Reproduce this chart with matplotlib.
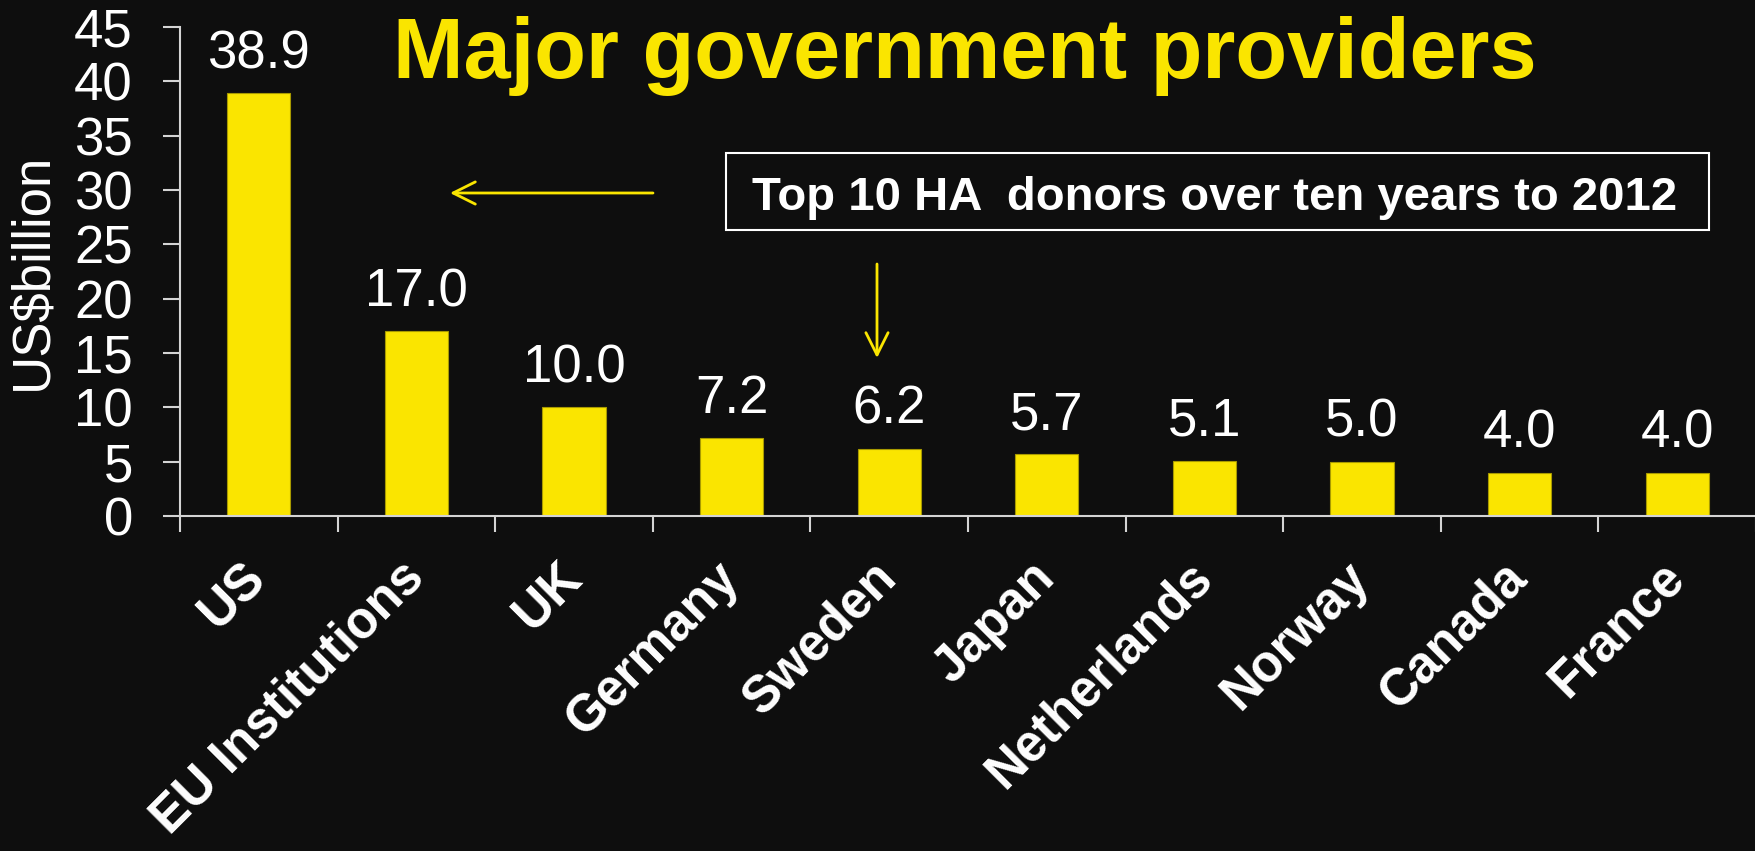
import matplotlib
matplotlib.use("Agg")
import matplotlib.pyplot as plt
from matplotlib.patches import Rectangle
import numpy as np

plt.rcParams['font.family'] = ['Liberation Sans', 'DejaVu Sans']

# data
donors = ['US', 'EU Institutions', 'UK', 'Germany', 'Sweden',
          'Japan', 'Netherlands', 'Norway', 'Canada', 'France']
values = [38.9, 17.0, 10.0, 7.2, 6.2, 5.7, 5.1, 5.0, 4.0, 4.0]
yticks = [0, 5, 10, 15, 20, 25, 30, 35, 40, 45]

bg = '#0e0e0e'
yellow = '#fae500'
axis_col = '#d4d4d4'
W, H = 1756, 851

fig = plt.figure(figsize=(W / 100, H / 100), dpi=100, facecolor=bg)
ax = fig.add_axes([180 / W, (H - 516) / H, (W - 180) / W, (516 - 27) / H])
ax.set_facecolor(bg)

x = np.arange(len(donors))
bars = ax.bar(x, values, width=0.4, color=yellow, edgecolor='#a89a00', linewidth=0.8)

for xi, v in zip(x, values):
    ax.annotate('%.1f' % v, xy=(xi, v), xytext=(0, 18), textcoords='offset points',
                ha='center', va='baseline', fontsize=38, color='white')

ax.set_xlim(-0.5, len(donors) - 0.5)
ax.set_ylim(0, 45)
ax.set_yticks(yticks)
ax.tick_params(axis='y', direction='out', length=12, width=1.5, color=axis_col,
               labelsize=38, labelcolor='white', pad=22)

# labels at bar centres, tick marks between categories
ax.set_xticks(x)
ax.set_xticklabels(donors, fontsize=37, fontweight='bold', color='white',
                   rotation=45, ha='right', va='center', rotation_mode='anchor')
ax.tick_params(axis='x', which='major', length=0, pad=39)
ax.set_xticks(np.arange(len(donors) + 1) - 0.5, minor=True)
ax.tick_params(axis='x', which='minor', direction='out', length=11.5, width=1.5,
               color=axis_col)

for s in ['top', 'right']:
    ax.spines[s].set_visible(False)
for s in ['left', 'bottom']:
    ax.spines[s].set_color(axis_col)
    ax.spines[s].set_linewidth(1.5)

ax.set_ylabel('US$billion', fontsize=38, color='white', labelpad=12)

fig.text(965 / W, 1 - 78 / H, 'Major government providers', ha='center', va='baseline',
         fontsize=61, fontweight='bold', color=yellow)

# annotation box
fig.add_artist(Rectangle((726 / W, 1 - 230 / H), (1709 - 726) / W, (230 - 153) / H,
                         transform=fig.transFigure, fill=False, edgecolor='white',
                         linewidth=1.5))
fig.text(1215 / W, 1 - 210 / H, 'Top 10 HA  donors over ten years to 2012',
         ha='center', va='baseline', fontsize=34, fontweight='bold', color='white')

arrow = dict(arrowstyle='->', color=yellow, lw=2, mutation_scale=40,
             shrinkA=0, shrinkB=0)
ax.annotate('', xy=(450, H - 193), xytext=(653, H - 193), xycoords='figure pixels',
            textcoords='figure pixels', arrowprops=arrow)
ax.annotate('', xy=(877, H - 358), xytext=(877, H - 264), xycoords='figure pixels',
            textcoords='figure pixels', arrowprops=arrow)

fig.savefig('out.png', dpi=100, facecolor=bg)
